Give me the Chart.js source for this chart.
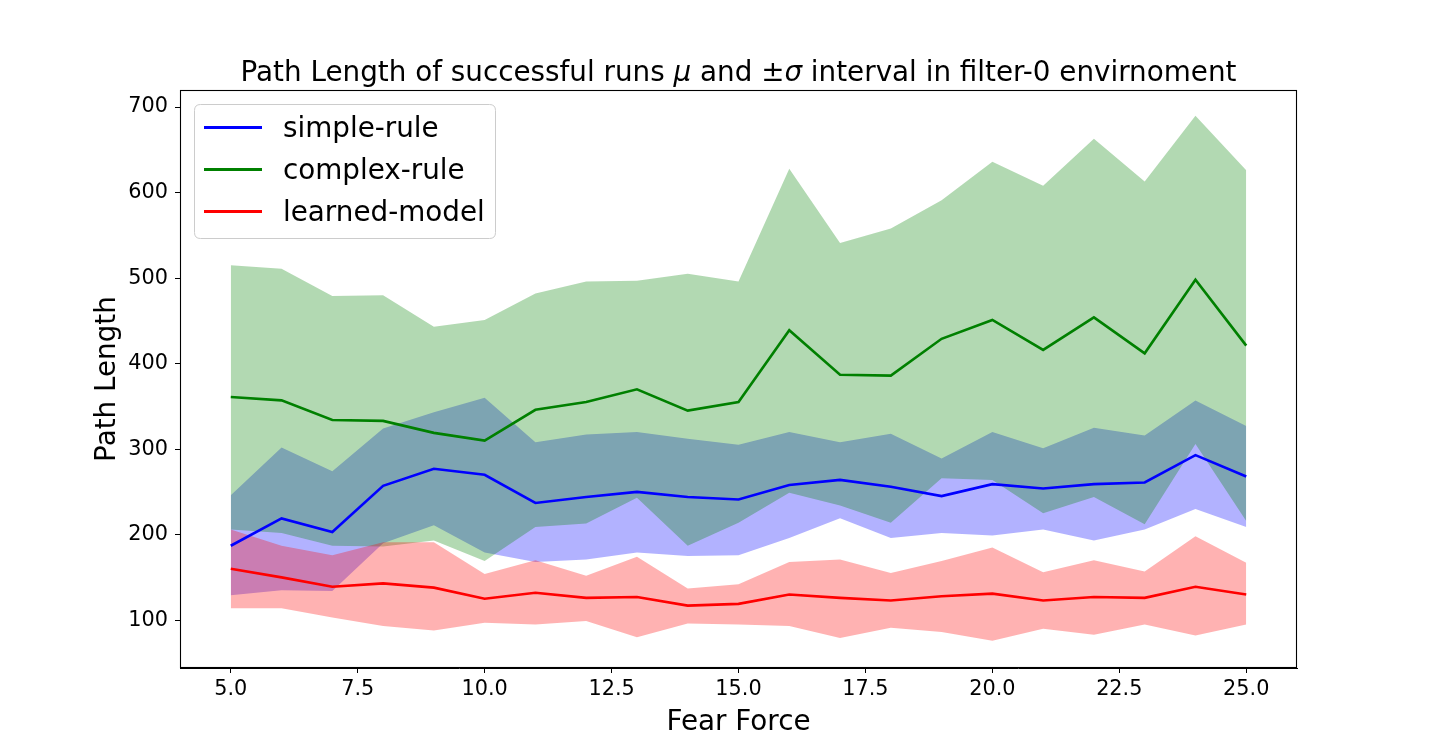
<!DOCTYPE html>
<html>
<head>
  <meta charset="UTF-8">
  <style>
    body { margin: 0; background: #fff; }
    #wrap { width: 1440px; height: 751px; }
  </style>
</head>
<body>
  <div id="wrap">
    <canvas id="path_chart" width="1440" height="751"></canvas>
  </div>

  <script src="https://cdn.jsdelivr.net/npm/chart.js"></script>
  <script>

    // fear force values (x)
    const fearForce = [5, 6, 7, 8, 9, 10, 11, 12, 13, 14, 15, 16, 17, 18, 19, 20, 21, 22, 23, 24, 25]

    // simple-rule: mean and mean +- sigma
    const simpleMean  = [187, 219, 203, 257, 277, 270, 237, 244, 250, 244, 241, 258, 264, 256, 245, 259, 254, 259, 261, 293, 268]
    const simpleUpper = [246, 302, 274, 324, 343, 360, 308, 317, 320, 312, 305, 320, 308, 318, 289, 320, 301, 325, 316, 357, 327]
    const simpleLower = [129, 135, 134, 190, 211, 179, 168, 171, 179, 175, 176, 196, 219, 196, 202, 199, 206, 193, 206, 230, 209]

    // complex-rule
    const complexMean  = [361, 357, 334, 333, 319, 310, 346, 355, 370, 345, 355, 439, 387, 386, 429, 451, 416, 454, 412, 498, 421]
    const complexUpper = [515, 511, 479, 480, 443, 451, 482, 496, 497, 505, 496, 628, 541, 558, 591, 636, 608, 663, 613, 690, 626]
    const complexLower = [206, 202, 187, 186, 193, 169, 209, 213, 243, 187, 214, 249, 234, 214, 266, 264, 225, 244, 212, 306, 216]

    // learned-model
    const learnedMean  = [160, 150, 139, 143, 138, 125, 132, 126, 127, 117, 119, 130, 126, 123, 128, 131, 123, 127, 126, 139, 130]
    const learnedUpper = [206, 187, 176, 191, 191, 154, 170, 152, 174, 137, 142, 168, 171, 155, 169, 185, 156, 170, 157, 198, 167]
    const learnedLower = [114, 114, 103,  93,  88,  97,  95,  99,  80,  96,  95,  93,  79,  91,  86,  76,  90,  83,  95,  82,  95]

    // tick labels
    const xTicks = [5.0, 7.5, 10.0, 12.5, 15.0, 17.5, 20.0, 22.5, 25.0]
    const yTicks = [100, 200, 300, 400, 500, 600, 700]

    const legendItems = [
      {label: 'simple-rule', color: '#0000ff'},
      {label: 'complex-rule', color: '#008000'},
      {label: 'learned-model', color: '#ff0000'},
    ]

    const FONT = "'DejaVu Sans', sans-serif"

    function pts(ys){
      return fearForce.map((x, i) => ({x: x, y: ys[i]}))
    }

    function meanLine(ys, color){
      return {data: pts(ys), borderColor: color, borderWidth: 2.6, pointRadius: 0, fill: false, tension: 0}
    }

    function band(ys, color, fillNext){
      return {data: pts(ys), borderColor: 'transparent', borderWidth: 0, pointRadius: 0,
        backgroundColor: color, fill: fillNext ? '+1' : false, tension: 0}
    }

    // matplotlib-like frame, title and legend
    const decorPlugin = {
      id: 'decor',
      afterDraw(chart){
        const ctx = chart.ctx
        const a = chart.chartArea
        ctx.save()
        // frame
        ctx.strokeStyle = '#000'
        ctx.lineWidth = 1.1
        ctx.strokeRect(Math.round(a.left) + 0.5, Math.round(a.top) + 0.5,
          Math.round(a.right - a.left) - 1, Math.round(a.bottom - a.top) - 1)

        // title with italic mu / sigma
        const parts = [
          {t: 'Path Length of successful runs ', it: false},
          {t: 'μ', it: true},
          {t: ' and ±', it: false},
          {t: 'σ', it: true},
          {t: ' interval in filter-0 envirnoment', it: false},
        ]
        const fs = 27.8
        let total = 0
        parts.forEach(p => {
          ctx.font = (p.it ? 'italic ' : '') + fs + 'px ' + FONT
          p.w = ctx.measureText(p.t).width
          total += p.w
        })
        let x = (a.left + a.right) / 2 - total / 2
        ctx.fillStyle = '#000'
        ctx.textBaseline = 'alphabetic'
        ctx.textAlign = 'left'
        parts.forEach(p => {
          ctx.font = (p.it ? 'italic ' : '') + fs + 'px ' + FONT
          ctx.fillText(p.t, x, 81)
          x += p.w
        })

        // legend
        const bx = 194.5, by = 104.5, bw = 301, bh = 134, r = 6
        ctx.beginPath()
        ctx.moveTo(bx + r, by)
        ctx.lineTo(bx + bw - r, by)
        ctx.quadraticCurveTo(bx + bw, by, bx + bw, by + r)
        ctx.lineTo(bx + bw, by + bh - r)
        ctx.quadraticCurveTo(bx + bw, by + bh, bx + bw - r, by + bh)
        ctx.lineTo(bx + r, by + bh)
        ctx.quadraticCurveTo(bx, by + bh, bx, by + bh - r)
        ctx.lineTo(bx, by + r)
        ctx.quadraticCurveTo(bx, by, bx + r, by)
        ctx.closePath()
        ctx.fillStyle = 'rgba(255,255,255,0.8)'
        ctx.fill()
        ctx.strokeStyle = '#cccccc'
        ctx.lineWidth = 1
        ctx.stroke()

        ctx.font = fs + 'px ' + FONT
        legendItems.forEach((item, i) => {
          const ly = 127.5 + i * 42
          ctx.strokeStyle = item.color
          ctx.lineWidth = 2.8
          ctx.beginPath()
          ctx.moveTo(204, ly)
          ctx.lineTo(262, ly)
          ctx.stroke()
          ctx.fillStyle = '#000'
          ctx.fillText(item.label, 283, ly + 9.4)
        })
        ctx.restore()
      }
    }

    const tickFont = {family: FONT, size: 20.8}
    const titleFont = {family: FONT, size: 27.8, lineHeight: 1.2}

    const chartCtx = document.getElementById('path_chart')
    const pathChart = new Chart(chartCtx, {
      type: 'line',
      data: {
        datasets: [
          meanLine(learnedMean, '#ff0000'),
          meanLine(complexMean, '#008000'),
          meanLine(simpleMean, '#0000ff'),
          band(learnedUpper, 'rgba(255,0,0,0.3)', true),
          band(learnedLower, 'rgba(255,0,0,0.3)', false),
          band(complexUpper, 'rgba(0,128,0,0.3)', true),
          band(complexLower, 'rgba(0,128,0,0.3)', false),
          band(simpleUpper, 'rgba(0,0,255,0.3)', true),
          band(simpleLower, 'rgba(0,0,255,0.3)', false),
        ]
      },
      options: {
        responsive: false,
        animation: false,
        devicePixelRatio: 1,
        layout: {padding: {left: 0, right: 143, top: 90, bottom: 0}},
        plugins: {
          legend: {display: false},
          title: {display: false},
          tooltip: {enabled: false},
          filler: {drawTime: 'beforeDatasetsDraw'}
        },
        scales: {
          x: {
            type: 'linear',
            min: 4,
            max: 26,
            afterBuildTicks: (s) => { s.ticks = xTicks.map(v => ({value: v})) },
            afterFit: (s) => { s.height = 83 },
            ticks: {
              callback: (v) => Number(v).toFixed(1),
              font: tickFont, color: '#000', padding: 4,
              maxRotation: 0, autoSkip: false
            },
            grid: {drawOnChartArea: false, drawTicks: true, tickLength: 5, color: '#000'},
            border: {display: true, color: '#000', width: 1},
            title: {display: true, text: 'Fear Force', font: titleFont, color: '#000',
              padding: {top: 0, bottom: 12}}
          },
          y: {
            type: 'linear',
            min: 44,
            max: 720,
            afterBuildTicks: (s) => { s.ticks = yTicks.map(v => ({value: v})) },
            afterFit: (s) => { s.width = 180 },
            ticks: {font: tickFont, color: '#000', padding: 7, autoSkip: false},
            grid: {drawOnChartArea: false, drawTicks: true, tickLength: 5, color: '#000'},
            border: {display: true, color: '#000', width: 1},
            title: {display: true, text: 'Path Length', font: titleFont, color: '#000',
              padding: {top: 91, bottom: 0}}
          }
        }
      },
      plugins: [decorPlugin]
    })

  </script>
</body>
</html>
